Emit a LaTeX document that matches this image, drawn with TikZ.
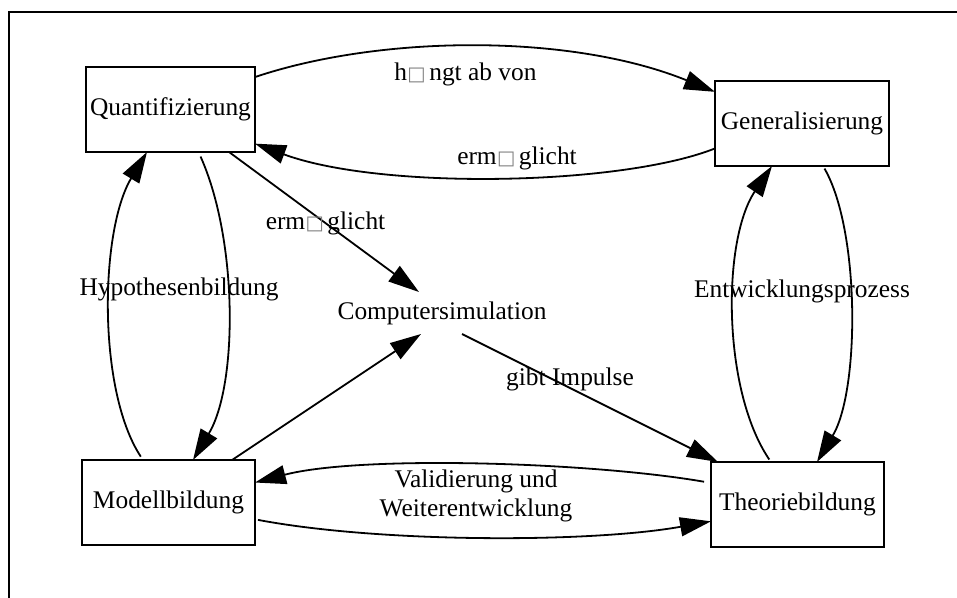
\documentclass[tikz,border=0pt]{standalone}
\usepackage{fontspec}
\setmainfont{Liberation Serif}
\newfontfamily\symfont{DejaVu Sans}
\usetikzlibrary{arrows.meta}
% glyph shown where the umlaut could not be rendered
\newcommand{\nglyph}{\kern0.3pt\raisebox{1pt}{\color{gray}\symfont\fontsize{19.5}{19.5}\selectfont □}\kern3.5pt}

\begin{document}
\begin{tikzpicture}[x=1bp,y=-1bp,
  every node/.style={font=\fontsize{25.5}{29}\selectfont, inner sep=0pt, outer sep=0pt},
  box/.style={draw, line width=2bp, minimum width=#1, minimum height=85bp},
  conn/.style={line width=1.8bp, -{Triangle[length=31bp,width=19bp]}},
  lbl/.style={anchor=base}
]
\fill[white] (0,0) rectangle (957,598);
\useasboundingbox (0,0) rectangle (957,598);
% page frame, open to the right and bottom
\draw[line width=2bp] (8.5,598) -- (8.5,11.7) -- (957,11.7);

% concept boxes
\node[box=169bp] (q) at (170.5,109.5) {Quantifizierung};
\node[box=174bp] (g) at (802,123.5) {Generalisierung};
\node[box=173bp] (t) at (797.5,504.5) {Theoriebildung};
\node[box=173bp] (m) at (168.5,502.5) {Modellbildung};
\node[minimum width=230bp, minimum height=42bp] (c) at (442,313) {Computersimulation};

% top pair
\draw[conn] (q.21) .. controls (380,35) and (570,33) .. (g.160);
\draw[conn] (g.196) .. controls (620,186) and (380,190) .. (q.338);

% left pair
\draw[conn, shorten <=5bp] ([xshift=28bp]q.south) .. controls (238,240) and (238,385) .. ([xshift=24.5bp]m.north);
\draw[conn, shorten <=4bp] ([xshift=-25.5bp]m.north) .. controls (97,390) and (100,230) .. ([xshift=-23.5bp]q.south);

% right pair
\draw[conn, shorten <=3bp] ([xshift=-26.5bp]t.north) .. controls (722,390) and (722,240) .. ([xshift=-30bp]g.south);
\draw[conn, shorten <=3bp] ([xshift=21bp]g.south) .. controls (860,230) and (860,390) .. ([xshift=19.5bp]t.north);

% bottom pair
\draw[conn, shorten <=7bp] (t.166) .. controls (590,462) and (360,455) .. (m.13);
\draw[conn, shorten <=3bp] (m.349) .. controls (380,543) and (590,543) .. (t.191);

% links through the simulation
\draw[conn] (q.324) -- ([xshift=-23bp]c.north);
\draw[conn] ([xshift=63.5bp]m.north) -- ([xshift=-21bp]c.south);
\draw[conn] ([xshift=20bp]c.south) -- ([xshift=7bp]t.north west);

% edge labels
\node[lbl] (l1) at (465.5,81) {h\nglyph ngt ab von};
\node[lbl] (l2) at (517,165) {erm\nglyph glicht};
\node[lbl] (l3) at (325.5,230) {erm\nglyph glicht};
\node[lbl] (l4) at (179,295) {Hypothesenbildung};
\node[lbl] (l5) at (570,385) {gibt Impulse};
\node[lbl] (l6) at (802,297) {Entwicklungsprozess};
\node[align=center] (l7) at (476,496) {Validierung und\\Weiterentwicklung};
\end{tikzpicture}
\end{document}
